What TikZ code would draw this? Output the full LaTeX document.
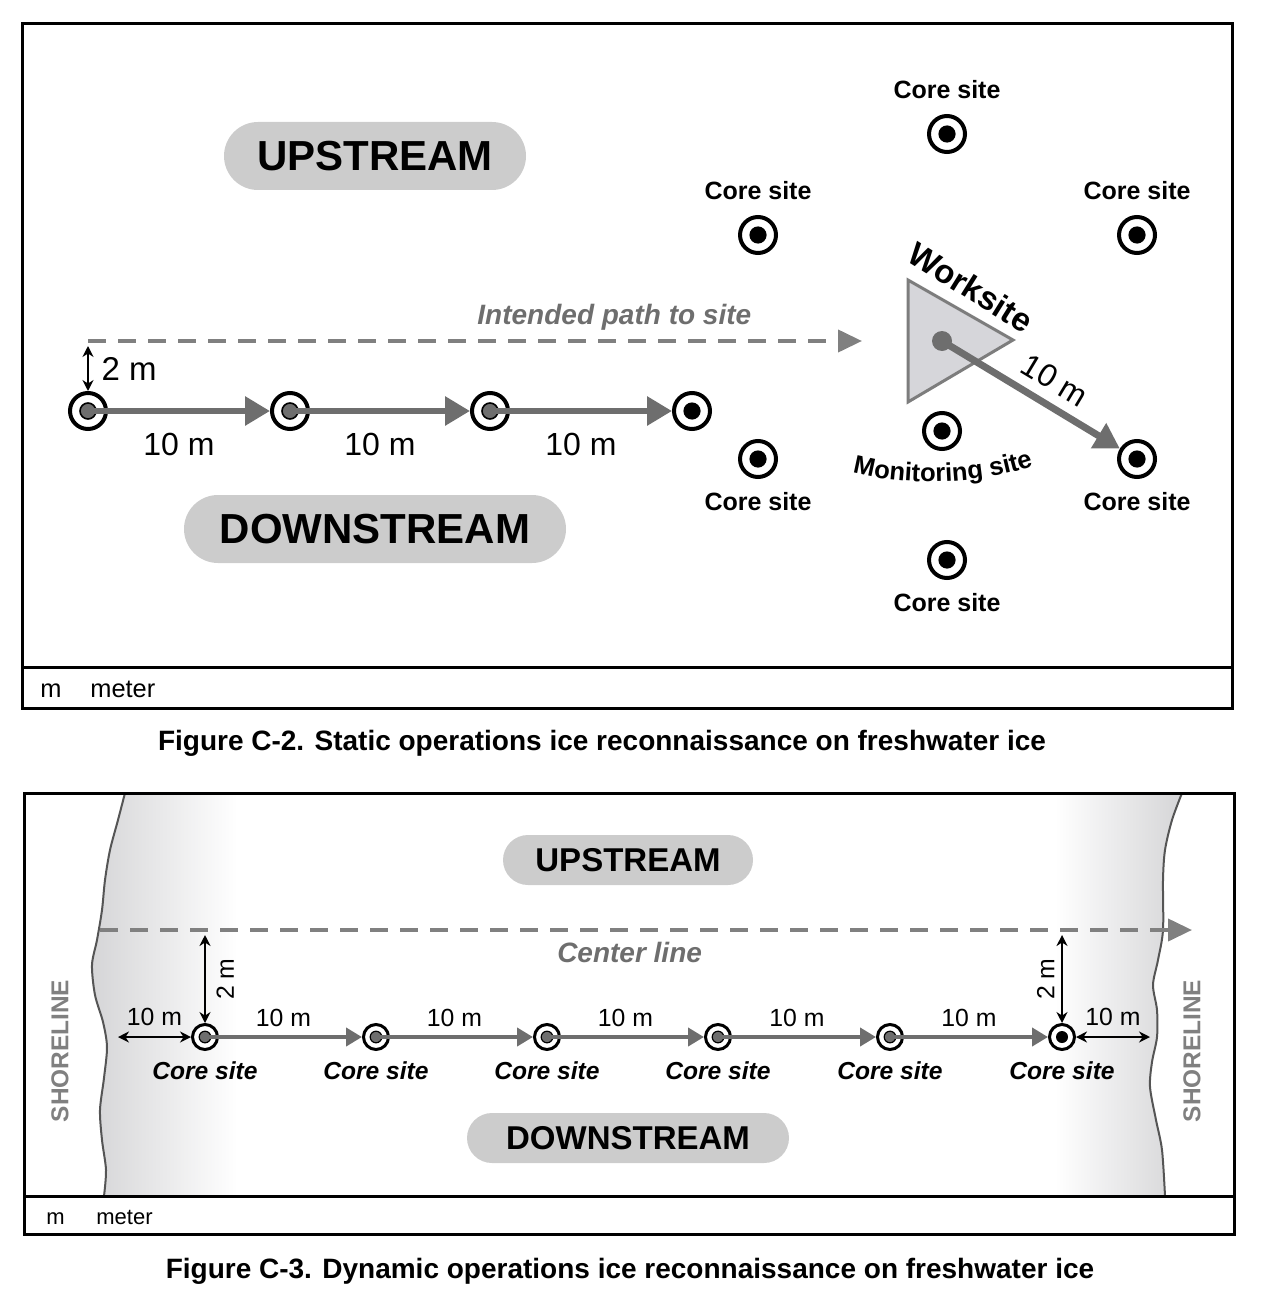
\documentclass[tikz,border=0pt]{standalone}
\usepackage{fontspec}
\setmainfont{Liberation Sans}
\usetikzlibrary{arrows.meta,positioning,decorations.text}
\definecolor{IRgray}{RGB}{110,110,110}
\definecolor{IRdash}{RGB}{128,128,128}
\definecolor{IRpill}{RGB}{204,204,204}
\definecolor{IRtri}{RGB}{214,214,218}
\definecolor{IRtriedge}{RGB}{125,125,125}
\definecolor{IRshore}{RGB}{188,188,191}
\definecolor{IRshoreedge}{RGB}{85,85,85}
\pgfdeclarehorizontalshading{shoreL}{100bp}{color(0bp)=(IRshore); color(4bp)=(IRshore);
  color(60bp)=(white); color(100bp)=(white)}
\pgfdeclarehorizontalshading{shoreR}{100bp}{color(0bp)=(white); color(40bp)=(white);
  color(96bp)=(IRshore); color(100bp)=(IRshore)}
\tikzset{
  frame/.style={line width=1.5pt,draw=black},
  legend/.style={font=\fontsize{12.7}{14}\selectfont,inner sep=0pt,anchor=base west},
  caption/.style={font=\fontsize{14}{16}\selectfont\bfseries},
  pill/.style={rounded corners=17pt,fill=IRpill,minimum width=151pt,minimum height=34pt,
               font=\fontsize{21}{24}\selectfont\bfseries},
  pillsm/.style={rounded corners=12.5pt,fill=IRpill,minimum width=125pt,minimum height=25pt,
               font=\fontsize{16.5}{19}\selectfont\bfseries},
  coresite/.style={circle,draw=black,line width=2pt,fill=white,minimum size=18pt,inner sep=0pt,
               path picture={\fill[black] (path picture bounding box.center) circle (4.3pt);}},
  startsite/.style={coresite,
               path picture={\filldraw[fill=IRgray,draw=black,line width=0.8pt]
                 (path picture bounding box.center) circle (4pt);}},
  coresm/.style={circle,draw=black,line width=1.5pt,fill=white,minimum size=12.5pt,inner sep=0pt,
               path picture={\fill[black] (path picture bounding box.center) circle (3pt);}},
  startsm/.style={coresm,
               path picture={\filldraw[fill=IRgray,draw=black,line width=0.6pt]
                 (path picture bounding box.center) circle (2.9pt);}},
  lbl/.style={font=\fontsize{12.5}{14}\selectfont\bfseries},
  lblsm/.style={font=\fontsize{12.3}{14}\selectfont\bfseries\itshape},
  dist/.style={font=\fontsize{16}{18}\selectfont},
  distsm/.style={font=\fontsize{12.4}{14}\selectfont},
  pathlbl/.style={text=IRgray,font=\fontsize{14}{16}\selectfont\bfseries\itshape},
  shorelbl/.style={text=IRdash,rotate=90,font=\fontsize{12.2}{14}\selectfont\bfseries},
  walk/.style={-{Triangle[length=12.5pt,width=14pt]},line width=3pt,draw=IRgray},
  walksm/.style={-{Triangle[length=8pt,width=9pt]},line width=2pt,draw=IRgray},
  intended/.style={-{Triangle[length=12pt,width=11pt]},dash pattern=on 9pt off 6pt,
               line width=2pt,draw=IRdash},
  gap/.style={{Stealth[length=5.5pt,width=5.5pt]}-{Stealth[length=5.5pt,width=5.5pt]},line width=0.9pt},
  worksite/.style={fill=IRtri,draw=IRtriedge,line width=1.5pt,line join=miter},
  shoreline/.style={draw=IRshoreedge,line width=1pt}
}
\begin{document}
\begin{tikzpicture}[x=0.5pt,y=-0.5pt]
  \useasboundingbox (0,0) rectangle (1260,1305);

  % Figure C-2
  \draw[frame] (22,24) rectangle (1232,708);
  \draw[frame] (22,667) -- (1232,667);
  \node[legend] (m1) at (40,697) {m};
  \node[legend] (meter1) at (90,697) {meter};
  \node[caption] (cap1) at (602,743) {Figure C-2. Static operations ice reconnaissance on freshwater ice};

  \node[pill] (up1) at (375,156) {UPSTREAM};
  \node[pill,minimum width=191pt] (down1) at (375,529) {DOWNSTREAM};

  \filldraw[worksite] (908,280) -- (1013,340) -- (908,402) -- cycle;
  \node[lbl,font=\fontsize{16.5}{18}\selectfont\bfseries,rotate=-32] (wslbl) at (971,287) {Worksite};

  \node[coresite] (cN) at (947,134) {};
  \node[coresite] (cNW) at (758,235) {};
  \node[coresite] (cNE) at (1137,235) {};
  \node[coresite] (cSW) at (758,459) {};
  \node[coresite] (cSE) at (1137,459) {};
  \node[coresite] (cS) at (947,560) {};
  \node[coresite] (mon) at (942,431) {};
  \node[lbl,above=4pt of cN] (lN) {Core site};
  \node[lbl,above=4pt of cNW] (lNW) {Core site};
  \node[lbl,above=4pt of cNE] (lNE) {Core site};
  \node[lbl,below=3pt of cSW] (lSW) {Core site};
  \node[lbl,below=3pt of cSE] (lSE) {Core site};
  \node[lbl,below=3pt of cS] (lS) {Core site};
  \path[decorate,decoration={text along path,text align=center,
        text={|\fontsize{12.8}{14}\selectfont\bfseries|Monitoring site}}]
    (850,472) .. controls (905,487) and (980,485) .. (1036,465);

  \node[circle,fill=IRgray,minimum size=10pt,inner sep=0pt] (ws) at (942,341) {};
  \draw[walk,line width=3.5pt] (ws.center) -- (cSE);
  \node[dist,rotate=-31] (ws10) at (1055,380) {10 m};

  \coordinate (pathstart) at (88,341);
  \coordinate (pathend) at (862,341);
  \draw[intended] (pathstart) -- node[pathlbl,above=1pt,pos=0.68] {Intended path to site} (pathend);

  \node[startsite] (p1) at (88,411) {};
  \node[startsite] (p2) at (290,411) {};
  \node[startsite] (p3) at (490,411) {};
  \node[coresite] (p4) at (692,411) {};
  \draw[walk] (p1.center) -- node[dist,below=6pt] {10 m} (p2);
  \draw[walk] (p2.center) -- node[dist,below=6pt] {10 m} (p3);
  \draw[walk] (p3.center) -- node[dist,below=6pt] {10 m} (p4);
  \draw[gap] ([yshift=-2.5pt]pathstart) -- node[dist,right=3pt,font=\fontsize{16.5}{18}\selectfont] {2 m} (p1);

  % Figure C-3
  \shade[shading=shoreL]
    plot[smooth] coordinates {(125,793) (118,820) (110,850) (105,880) (102,910) (97,940)
      (92,965) (95,995) (103,1022) (107,1047) (104,1078) (100,1110) (102,1140) (106,1170) (104,1196)}
    -- (300,1196) -- (300,793) -- cycle;
  \shade[shading=shoreR]
    (1000,793) -- plot[smooth] coordinates {(1182,793) (1172,820) (1165,850) (1163,880) (1163,930)
      (1158,960) (1153,985) (1157,1010) (1157,1037) (1152,1062) (1150,1087) (1156,1120)
      (1162,1150) (1165,1196)} -- (1000,1196) -- cycle;
  \draw[shoreline]
    plot[smooth] coordinates {(125,793) (118,820) (110,850) (105,880) (102,910) (97,940)
      (92,965) (95,995) (103,1022) (107,1047) (104,1078) (100,1110) (102,1140) (106,1170) (104,1196)};
  \draw[shoreline]
    plot[smooth] coordinates {(1182,793) (1172,820) (1165,850) (1163,880) (1163,930)
      (1158,960) (1153,985) (1157,1010) (1157,1037) (1152,1062) (1150,1087) (1156,1120)
      (1162,1150) (1165,1196)};

  \draw[frame] (24,793) rectangle (1234,1234);
  \draw[frame] (24,1196) -- (1234,1196);
  \node[legend,font=\fontsize{11}{13}\selectfont] (m2) at (46,1224) {m};
  \node[legend,font=\fontsize{11}{13}\selectfont] (meter2) at (96,1224) {meter};
  \node[caption] (cap2) at (630,1271) {Figure C-3. Dynamic operations ice reconnaissance on freshwater ice};

  \node[shorelbl] (shoreL) at (60,1051) {SHORELINE};
  \node[shorelbl] (shoreR) at (1192,1051) {SHORELINE};

  \node[pillsm] (up2) at (628,860) {UPSTREAM};
  \node[pillsm,minimum width=161pt] (down2) at (628,1138) {DOWNSTREAM};

  \coordinate (cl0) at (100,930);
  \coordinate (cl1) at (1192,930);
  \draw[intended] (cl0) -- node[pathlbl,below=2pt,pos=0.485] {Center line} (cl1);

  \node[startsm] (s1) at (205,1037) {};
  \node[startsm] (s2) at (376,1037) {};
  \node[startsm] (s3) at (547,1037) {};
  \node[startsm] (s4) at (718,1037) {};
  \node[startsm] (s5) at (890,1037) {};
  \node[coresm] (s6) at (1062,1037) {};
  \foreach \s in {s1,s2,s3,s4,s5,s6}
    \node[lblsm,below=2pt of \s] {Core site};
  \draw[walksm] (s1.center) -- node[distsm,above=1pt] {10 m} (s2);
  \draw[walksm] (s2.center) -- node[distsm,above=1pt] {10 m} (s3);
  \draw[walksm] (s3.center) -- node[distsm,above=1pt] {10 m} (s4);
  \draw[walksm] (s4.center) -- node[distsm,above=1pt] {10 m} (s5);
  \draw[walksm] (s5.center) -- node[distsm,above=1pt] {10 m} (s6);

  \coordinate (shoreA) at (118,1037);
  \coordinate (shoreB) at (1150,1037);
  \draw[gap] (shoreA) -- node[distsm,above=2pt] {10 m} (s1);
  \draw[gap] (s6) -- node[distsm,above=2pt] {10 m} (shoreB);

  \coordinate (t1) at (205,935);
  \coordinate (t6) at (1062,935);
  \draw[gap] (t1) -- node[distsm,rotate=90,anchor=north,yshift=-2pt] {2 m} (s1);
  \draw[gap] (t6) -- node[distsm,rotate=90,anchor=south] {2 m} (s6);
\end{tikzpicture}
\end{document}
